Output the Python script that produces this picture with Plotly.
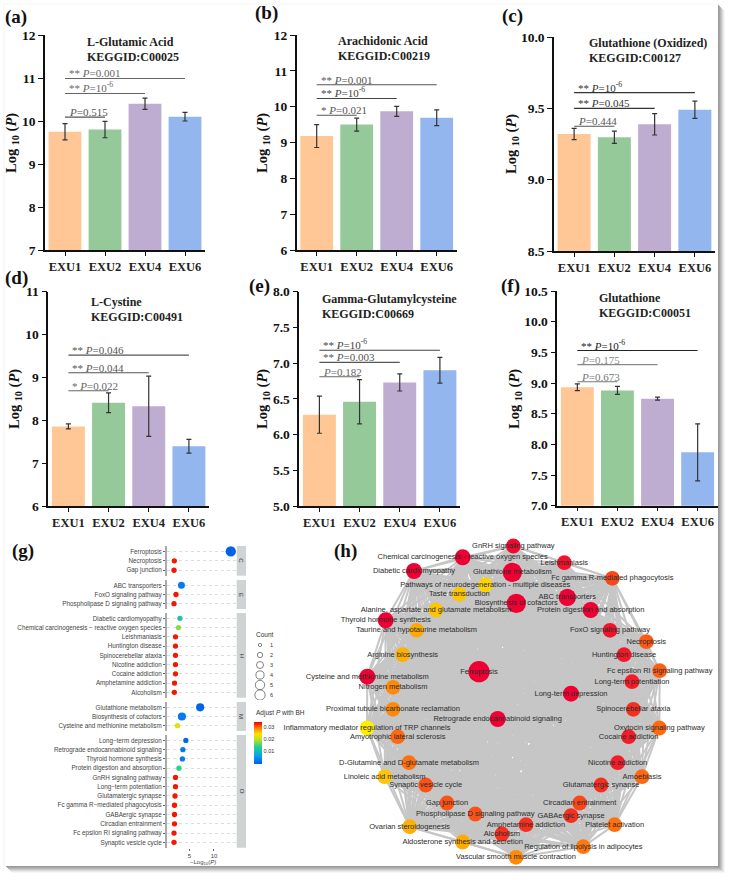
import itertools
import plotly.graph_objects as go

W, H = 732, 880
SERIF = "Liberation Serif"
SANS = "Liberation Sans"

groups = ["EXU1", "EXU2", "EXU4", "EXU6"]
bar_colors = ["#FFC796", "#96C999", "#BFADD1", "#94B6EE"]

names_bar = ["L-Glutamic Acid", "Arachidonic Acid", "Glutathione (Oxidized)",
             "L-Cystine", "Gamma-Glutamylcysteine", "Glutathione"]
kegg_ids = ["C00025", "C00219", "C00127", "C00491", "C00669", "C00051"]
means = [[9.75, 9.80, 10.40, 10.10],
         [9.18, 9.50, 9.87, 9.69],
         [9.32, 9.297, 9.388, 9.49],
         [7.86, 8.41, 8.33, 7.40],
         [6.28, 6.46, 6.73, 6.90],
         [8.93, 8.88, 8.745, 7.87]]
errors = [[0.19, 0.19, 0.13, 0.10],
          [0.32, 0.18, 0.14, 0.22],
          [0.04, 0.043, 0.075, 0.06],
          [0.06, 0.23, 0.70, 0.16],
          [0.26, 0.31, 0.12, 0.18],
          [0.055, 0.065, 0.025, 0.465]]
sig_levels = [[10.09, 10.64, 10.99],
              [9.76, 10.23, 10.61],
              [9.374, 9.50, 9.61],
              [8.69, 9.11, 9.52],
              [6.81, 7.01, 7.18],
              [9.02, 9.30, 9.53]]
P6 = "10<sup>-6</sup>"
sig_labels = [["<i>P</i>=0.515", "** <i>P</i>=" + P6, "** <i>P</i>=0.001"],
              ["* <i>P</i>=0.021", "** <i>P</i>=" + P6, "** <i>P</i>=0.001"],
              ["<i>P</i>=0.444", "** <i>P</i>=0.045", "** <i>P</i>=" + P6],
              ["* <i>P</i>=0.022", "** <i>P</i>=0.044", "** <i>P</i>=0.046"],
              ["<i>P</i>=0.182", "** <i>P</i>=0.003", "** <i>P</i>=" + P6],
              ["<i>P</i>=0.673", "<i>P</i>=0.175", "** <i>P</i>=" + P6]]
sig_colors = [["#555555", "#666666", "#666666"], ["#555555", "#444444", "#555555"],
              ["#555555", "#333333", "#333333"], ["#666666", "#555555", "#555555"],
              ["#666666", "#555555", "#444444"], ["#777777", "#888888", "#222222"]]
y_ranges = [(7, 12, 1), (6, 12, 1), (8.5, 10, 0.5), (6, 11, 1), (5, 8, 0.5), (7, 10.5, 0.5)]

# ---- panel (g)
facet_names = ["C", "E", "H", "M", "O"]
facet_terms = [
    ["Ferroptosis", "Necroptosis", "Gap junction"],
    ["ABC transporters", "FoxO signaling pathway", "Phospholipase D signaling pathway"],
    ["Diabetic cardiomyopathy", "Chemical carcinogenesis \u2212 reactive oxygen species",
     "Leishmaniasis", "Huntington disease", "Spinocerebellar ataxia", "Nicotine addiction",
     "Cocaine addiction", "Amphetamine addiction", "Alcoholism"],
    ["Glutathione metabolism", "Biosynthesis of cofactors", "Cysteine and methionine metabolism"],
    ["Long\u2212term depression", "Retrograde endocannabinoid signaling", "Thyroid hormone synthesis",
     "Protein digestion and absorption", "GnRH signaling pathway", "Long\u2212term potentiation",
     "Glutamatergic synapse", "Fc gamma R\u2212mediated phagocytosis", "GABAergic synapse",
     "Circadian entrainment", "Fc epsilon RI signaling pathway", "Synaptic vesicle cycle"],
]
facet_log = [[13.4, 1.96, 1.9], [3.4, 2.3, 1.9],
             [3.1, 2.8, 2.2, 2.2, 2.2, 2.2, 2.2, 2.0, 1.96],
             [7.2, 3.5, 2.6],
             [4.3, 3.7, 3.6, 2.9, 2.2, 2.2, 2.1, 2.0, 2.0, 2.0, 1.9, 1.9]]
facet_count = [[6, 2, 2], [3, 2, 2], [2, 2, 2, 2, 2, 2, 2, 2, 2], [4, 4, 2],
               [2, 2, 2, 2, 2, 2, 2, 2, 2, 2, 2, 2]]
facet_padj = [[0.0002, 0.033, 0.033], [0.003, 0.033, 0.033],
              [0.012, 0.018, 0.033, 0.033, 0.033, 0.033, 0.033, 0.033, 0.033],
              [0.0005, 0.003, 0.022],
              [0.001, 0.003, 0.003, 0.014, 0.033, 0.033, 0.033, 0.033, 0.033, 0.033, 0.033, 0.033]]
count_levels = [1, 2, 3, 4, 5, 6]
count_diam = {1: 3.3, 2: 5.3, 3: 7, 4: 8.2, 5: 9.4, 6: 10.3}

# ---- panel (h)
node_names = [
    "GnRH signaling pathway", "Chemical carcinogenesis - reactive oxygen species", "Leishmaniasis",
    "Diabetic cardiomyopathy", "Glutathione metabolism", "Fc gamma R-mediated phagocytosis",
    "Pathways of neurodegeneration - multiple diseases", "Taste transduction", "ABC transporters",
    "Biosynthesis of cofactors", "Alanine, aspartate and glutamate metabolism",
    "Protein digestion and absorption", "Thyroid hormone synthesis", "FoxO signaling pathway",
    "Taurine and hypotaurine metabolism", "Necroptosis", "Arginine biosynthesis", "Huntington disease",
    "Fc epsilon RI signaling pathway", "Ferroptosis", "Cysteine and methionine metabolism",
    "Long-term potentiation", "Nitrogen metabolism", "Long-term depression",
    "Proximal tubule bicarbonate reclamation", "Spinocerebellar ataxia",
    "Retrograde endocannabinoid signaling", "Inflammatory mediator regulation of TRP channels",
    "Oxytocin signaling pathway", "Amyotrophic lateral sclerosis", "Cocaine addiction",
    "D-Glutamine and D-glutamate metabolism", "Nicotine addiction", "Amoebiasis",
    "Linoleic acid metabolism", "Synaptic vesicle cycle", "Glutamatergic synapse", "Gap junction",
    "Circadian entrainment", "Phospholipase D signaling pathway", "GABAergic synapse",
    "Amphetamine addiction", "Platelet activation", "Ovarian steroidogenesis", "Alcoholism",
    "Aldosterone synthesis and secretion", "Regulation of lipolysis in adipocytes",
    "Vascular smooth muscle contraction"]
node_x = [580, 428, 733, 282, 577, 877, 496, 418, 742, 589, 348, 812, 197, 870, 290, 979, 248, 912,
          1019, 477, 142, 936, 219, 753, 219, 940, 533, 141, 1018, 233, 926, 267, 893, 966, 194, 317,
          843, 381, 779, 466, 753, 618, 884, 269, 546, 428, 790, 588]
node_y = [48, 82, 98, 123, 127, 145, 165, 193, 202, 220, 240, 240, 271, 301, 301, 335, 374, 374,
          422, 425, 440, 455, 472, 491, 538, 538, 567, 594, 594, 620, 620, 698, 698, 740, 740, 765,
          765, 819, 819, 852, 857, 884, 884, 890, 912, 936, 950, 982]
node_count = [1, 2, 1, 2, 4, 1, 1, 1, 3, 4, 1, 2, 2, 1, 1, 1, 1, 1,
              1, 6, 2, 1, 1, 2, 1, 1, 2, 1, 1, 1, 1, 1, 1, 1, 1, 1,
              1, 1, 1, 1, 1, 1, 1, 1, 1, 1, 1, 1]
node_p = [0.002, 0.0, 0.004, 0.0, 0.0, 0.014, 0.036, 0.034, 0.0, 0.0, 0.034, 0.0, 0.0, 0.004,
          0.030, 0.017, 0.031, 0.005, 0.018, 0.0, 0.0, 0.006, 0.025, 0.0, 0.025, 0.010, 0.0, 0.040,
          0.020, 0.020, 0.006, 0.021, 0.006, 0.020, 0.034, 0.016, 0.010, 0.016, 0.014, 0.016, 0.010,
          0.010, 0.021, 0.031, 0.010, 0.030, 0.022, 0.025]
node_diam = {1: 14.8, 2: 16, 3: 17.3, 4: 19.3, 6: 21.3}


def fx(px):
    return px / W


def fy(px):
    return 1 - px / H


def dx(a, b):
    return [fx(a), fx(b)]


def dy(top, bottom):
    return [fy(bottom), fy(top)]


fig = go.Figure()
annotations = []
shapes = []

# ---- shadow frame
shadow_cols = ["#9a9a9a", "#a6a6a6", "#b6b6b6", "#c8c8c8", "#dadada", "#ebebeb", "#f6f6f6"]
for i, c in enumerate(shadow_cols):
    shapes.append(dict(type="rect", xref="paper", yref="paper", layer="below", line_width=0, fillcolor=c,
                       x0=fx(718 + i), x1=fx(719 + i), y0=fy(5 + i), y1=fy(866 + i)))
    shapes.append(dict(type="rect", xref="paper", yref="paper", layer="below", line_width=0, fillcolor=c,
                       x0=fx(6 + i), x1=fx(719 + i), y0=fy(866 + i), y1=fy(867 + i)))
shapes.append(dict(type="line", xref="paper", yref="paper", layer="below", line=dict(color="#f3f3f3", width=1),
                   x0=fx(4), x1=fx(4), y0=fy(5), y1=fy(866)))
shapes.append(dict(type="line", xref="paper", yref="paper", layer="below", line=dict(color="#f5f5f5", width=1),
                   x0=fx(4), x1=fx(718), y0=fy(4), y1=fy(4)))

# ---- bar panels
frames = [(45, 205, 35, 250), (296.7, 456.7, 35, 250), (554, 715, 37, 251),
          (48.3, 209, 291.5, 506.3), (299.3, 460, 291.5, 506.3), (557.3, 717.7, 291, 505.7)]
title_pos = [(85, 42), (335.7, 41), (586.7, 43), (89, 302), (320, 299), (596.7, 298)]
ytitle_pos = [(12, 143), (263, 143), (512, 144), (15, 399), (263, 399), (515, 399)]
letters = [("(a)", 3, 17), ("(b)", 253, 13), ("(c)", 500, 16), ("(d)", 3, 278), ("(e)", 247, 286),
           ("(f)", 499, 286), ("(g)", 10, 551), ("(h)", 332, 551)]

for k in range(6):
    n = k + 1
    xa, ya = f"x{n}", f"y{n}"
    fig.add_trace(go.Bar(x=groups, y=means[k], marker=dict(color=bar_colors, line=dict(width=0)),
                         error_y=dict(type="data", array=errors[k], color="#333333", thickness=1.2, width=2.5),
                         xaxis=xa, yaxis=ya, showlegend=False))
    for lvl, end, col, lab in zip(sig_levels[k], [1, 2, 3], sig_colors[k], sig_labels[k]):
        fig.add_trace(go.Scatter(x=[groups[0], groups[end]], y=[lvl, lvl], mode="lines",
                                 line=dict(color=col, width=1.1), xaxis=xa, yaxis=ya, showlegend=False))
        annotations.append(dict(x=groups[0], y=lvl, xref=xa, yref=ya, text=lab, showarrow=False,
                                xanchor="left", yanchor="bottom", xshift=2, yshift=-3,
                                font=dict(family=SERIF, size=11, color=col)))
    x0, x1, y0, y1 = frames[k]
    lo, hi, step = y_ranges[k]
    fig.layout[f"xaxis{n}"] = dict(domain=dx(x0, x1), range=[-0.5, 3.5], type="category", anchor=ya,
                                   categoryorder="array", categoryarray=groups,
                                   showline=True, linecolor="#111111", linewidth=1.5, ticks="outside",
                                   ticklen=4, tickwidth=1.3, tickcolor="#111111", showgrid=False, zeroline=False,
                                   tickfont=dict(family=SERIF, size=12.5, color="#222222", weight="bold"))
    fig.layout[f"yaxis{n}"] = dict(domain=dy(y0, y1), range=[lo, hi], dtick=step, tick0=lo, anchor=xa,
                                   tickformat=".1f" if step < 1 else "d",
                                   showline=True, linecolor="#111111", linewidth=1.5, ticks="outside",
                                   ticklen=5, tickwidth=1.3, tickcolor="#111111", showgrid=False, zeroline=False,
                                   tickfont=dict(family=SERIF, size=13.5, color="#111111", weight="bold"))
    tx, ty = title_pos[k]
    annotations.append(dict(x=fx(tx), y=fy(ty), xref="paper", yref="paper", text=f"<b>{names_bar[k]}</b>",
                            showarrow=False, xanchor="left", yanchor="middle",
                            font=dict(family=SERIF, size=12, color="#222222")))
    annotations.append(dict(x=fx(tx), y=fy(ty + 15), xref="paper", yref="paper", text=f"<b>KEGGID:{kegg_ids[k]}</b>",
                            showarrow=False, xanchor="left", yanchor="middle",
                            font=dict(family=SERIF, size=12, color="#222222")))
    tx, ty = ytitle_pos[k]
    annotations.append(dict(x=fx(tx), y=fy(ty), xref="paper", yref="paper", textangle=-90,
                            text="<b>Log <sub>10</sub> (<i>P</i>)</b>", showarrow=False,
                            xanchor="center", yanchor="middle", font=dict(family=SERIF, size=14.5, color="#111111")))

for txt, x, y in letters:
    annotations.append(dict(x=fx(x), y=fy(y), xref="paper", yref="paper", text=f"<b>{txt}</b>", showarrow=False,
                            xanchor="left", yanchor="middle", font=dict(family=SERIF, size=19, color="#111111")))

# ---- panel (g)
facet_frames = [(546, 575.7), (580, 609), (613, 697.7), (702, 731), (735, 847.7)]
rainbow = [[0, "#0060e8"], [0.2, "#0aa0f0"], [0.4, "#20d090"], [0.6, "#c8e020"],
           [0.72, "#ffe000"], [0.85, "#ff8000"], [1, "#ee0000"]]
g_x = "x7"
for j in range(5):
    n = 7 + j
    ya = f"y{n}"
    terms = facet_terms[j]
    top, bottom = facet_frames[j]
    marker = dict(size=[count_diam[c] for c in facet_count[j]], color=facet_padj[j], cmin=0, cmax=0.034,
                  colorscale=rainbow, line=dict(width=0), opacity=1)
    if j == 0:
        marker.update(showscale=True,
                      colorbar=dict(x=fx(254), xanchor="left", y=fy(742.8), yanchor="middle", len=42.3 / H,
                                    lenmode="fraction", thickness=8, thicknessmode="pixels", xpad=0, ypad=0,
                                    outlinewidth=0, tickvals=[0.01, 0.02, 0.03], ticks="",
                                    tickfont=dict(family=SANS, size=5.5, color="#333333")))
    fig.add_trace(go.Scatter(x=facet_log[j], y=terms, mode="markers", marker=marker, xaxis=g_x, yaxis=ya,
                             showlegend=False))
    fig.layout[f"yaxis{n}"] = dict(domain=dy(top, bottom), type="category", categoryorder="array",
                                   categoryarray=terms, range=[len(terms) - 1 + 0.58, -0.58], anchor=g_x,
                                   showline=True, linecolor="#aaaaaa", linewidth=2, ticks="outside", ticklen=2,
                                   tickwidth=0.6, tickcolor="#666666", showgrid=True, gridcolor="#dddddd",
                                   griddash="dot", gridwidth=0.7, zeroline=False, automargin=False,
                                   tickfont=dict(family=SANS, size=6.3, color="#444444"))
    shapes.append(dict(type="rect", xref="paper", yref="paper", layer="below", line_width=0, fillcolor="#CFD3D3",
                       x0=fx(236.7), x1=fx(246), y0=fy(bottom), y1=fy(top)))
    annotations.append(dict(x=fx(241.5), y=fy((top + bottom) / 2), xref="paper", yref="paper",
                            text=facet_names[j], textangle=90, showarrow=False, xanchor="center", yanchor="middle",
                            font=dict(family=SANS, size=6, color="#333333")))
fig.layout["xaxis7"] = dict(domain=dx(167, 236.7), range=[0.48, 14.6], tickvals=[5, 10], anchor="y11",
                            showline=False, ticks="outside", ticklen=2, tickwidth=0.6, tickcolor="#666666",
                            showgrid=False, zeroline=False, tickfont=dict(family=SANS, size=6, color="#444444"))
annotations.append(dict(x=fx(203), y=fy(862.5), xref="paper", yref="paper",
                        text="\u2212Log<sub>10</sub>(<i>P</i>)", showarrow=False, xanchor="center", yanchor="middle",
                        font=dict(family=SANS, size=6, color="#444444")))
annotations.append(dict(x=fx(254), y=fy(634), xref="paper", yref="paper", text="Count", showarrow=False,
                        xanchor="left", yanchor="middle", font=dict(family=SANS, size=6.5, color="#333333")))
annotations.append(dict(x=fx(254), y=fy(713), xref="paper", yref="paper", text="Adjust <i>P</i> with BH",
                        showarrow=False, xanchor="left", yanchor="middle",
                        font=dict(family=SANS, size=6.5, color="#333333")))

# count key, one hidden axis pair
fig.add_trace(go.Scatter(x=[0] * len(count_levels), y=count_levels, mode="markers",
                         marker=dict(size=[count_diam[c] for c in count_levels], color="white", opacity=1,
                                     line=dict(color="#333333", width=0.6)),
                         xaxis="x12", yaxis="y12", showlegend=False))
for c in count_levels:
    annotations.append(dict(x=1, y=c, xref="x12", yref="y12", text=str(c), showarrow=False, xanchor="center",
                            yanchor="middle", font=dict(family=SANS, size=5.5, color="#333333")))
fig.layout["xaxis12"] = dict(domain=dx(250, 282), range=[-1 / 1.1, 2.0], visible=False, anchor="y12")
fig.layout["yaxis12"] = dict(domain=dy(640, 700), range=[6.5, 0.5], visible=False, anchor="x12")

# ---- panel (h)
ex, ey = [], []
for a, b in itertools.combinations(range(len(node_x)), 2):
    ex += [node_x[a], node_x[b], None]
    ey += [node_y[a], node_y[b], None]
fig.add_trace(go.Scatter(x=ex, y=ey, mode="lines", line=dict(color="#c6c6c6", width=2.0), xaxis="x13", yaxis="y13",
                         hoverinfo="skip", showlegend=False))
fig.add_trace(go.Scatter(x=node_x, y=node_y, mode="markers+text", text=node_names, textposition="middle center",
                         textfont=dict(family=SANS, size=7.5, color="#2b2b2b"), cliponaxis=False,
                         marker=dict(size=[node_diam[c] for c in node_count], color=node_p, cmin=0, cmax=0.04,
                                     opacity=1,
                                     colorscale=[[0, "#ee0033"], [0.25, "#f53020"], [0.5, "#ff6a10"],
                                                 [0.75, "#ffaa00"], [1, "#ffee00"]], line=dict(width=0)),
                         xaxis="x13", yaxis="y13", showlegend=False))
fig.layout["xaxis13"] = dict(domain=dx(320, 718), range=[0, 1194], visible=False, anchor="y13")
fig.layout["yaxis13"] = dict(domain=dy(530, 866), range=[1008, 0], visible=False, anchor="x13")

fig.update_layout(width=W, height=H, margin=dict(l=0, r=0, t=0, b=0, autoexpand=False), paper_bgcolor="white",
                  plot_bgcolor="rgba(0,0,0,0)", bargap=0.18, annotations=annotations, shapes=shapes,
                  showlegend=False)
fig.write_html("out.html", config=dict(displayModeBar=False),
               post_script="document.body.style.margin='0';document.documentElement.style.overflow='hidden';")
